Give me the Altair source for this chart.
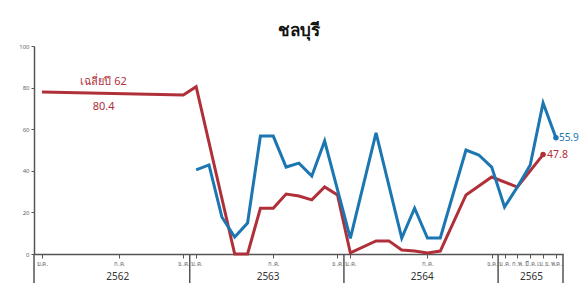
import json
import altair as alt
import pandas as pd

# ---- data (month index: 0 = ม.ค. 2562) ----
blue_month = [12, 13, 14, 15, 16, 17, 18, 19, 20, 21, 22, 24, 26, 28, 29, 30, 31, 33, 34, 35, 36, 37, 38, 39, 40]
blue_value = [40.4, 42.8, 17.8, 8.2, 14.9, 56.7, 56.7, 41.8, 43.7, 37.5, 54.3, 7.5, 58.2, 7.7, 22.0, 7.7, 7.7,
              50.0, 47.6, 41.8, 22.6, 32.2, 42.8, 72.6, 55.9]
red_month = [0, 11, 12, 15, 16, 17, 18, 19, 20, 21, 22, 23, 24, 26, 27, 28, 29, 30, 31, 33, 35, 37, 39]
red_value = [77.9, 76.4, 80.4, 0, 0, 22.0, 22.0, 28.8, 27.9, 26.0, 32.2, 28.4, 0.5, 6.3, 6.3, 1.9, 1.4, 0.5, 1.4,
             28.4, 37.0, 32.2, 47.8]

tick_month = [0, 6, 11, 12, 18, 23, 24, 30, 35, 36, 37, 38, 39, 40]
tick_label = ["ม.ค.", "ก.ค.", "ธ.ค.", "ม.ค.", "ก.ค.", "ธ.ค.", "ม.ค.", "ก.ค.", "ธ.ค.",
              "ม.ค.", "ก.พ.", "มี.ค.", "เม.ย.", "พ.ค."]
year_label = ["2562", "2563", "2564", "2565"]
year_mid = [5.9, 17.6, 29.6, 38.1]
year_edge = [-0.62, 11.5, 23.5, 35.5, 40.55]

avg_label = ["เฉลี่ยปี 62", "80.4"]

BLUE = "#1b76b2"
RED = "#b0303a"
AX = "#555555"
FONT = "Noto Sans"

blue_df = pd.DataFrame({"m": blue_month, "v": blue_value})
red_df = pd.DataFrame({"m": red_month, "v": red_value})
year_df = pd.DataFrame({"m": year_mid, "label": year_label})
edge_df = pd.DataFrame({"m": year_edge})
avg_df = pd.DataFrame({"m": [4.8, 4.8], "v": [82.7, 70.7], "label": avg_label})

xs = alt.Scale(domain=[-0.62, 40.55], nice=False, zero=False)
ys = alt.Scale(domain=[0, 100], nice=False)

label_expr = "{}[indexof({}, datum.value)]".format(
    json.dumps(tick_label, ensure_ascii=False), json.dumps(tick_month))

x_axis = alt.Axis(values=tick_month, labelExpr=label_expr, grid=False, title=None,
                  domainColor=AX, domainWidth=1.5, tickColor=AX, tickSize=4, tickWidth=1,
                  labelFontSize=6, labelColor="#666666", labelPadding=2, labelFont=FONT,
                  labelFlush=False, labelOverlap=False)
y_axis = alt.Axis(values=list(range(0, 101, 10)), grid=False, title=None,
                  domainColor=AX, domainWidth=1.5, tickColor=AX, tickSize=3, tickWidth=1,
                  labelFontSize=6, labelColor="#666666", labelPadding=2, labelFont=FONT)

base_x = alt.X("m:Q", scale=xs, axis=x_axis)
base_y = alt.Y("v:Q", scale=ys, axis=y_axis)

red_line = alt.Chart(red_df).mark_line(color=RED, strokeWidth=3).encode(x=base_x, y=base_y)
blue_line = alt.Chart(blue_df).mark_line(color=BLUE, strokeWidth=3).encode(x="m:Q", y="v:Q")

red_end = alt.Chart(red_df.tail(1)).mark_circle(color=RED, size=30, opacity=1).encode(x="m:Q", y="v:Q")
blue_end = alt.Chart(blue_df.tail(1)).mark_circle(color=BLUE, size=30, opacity=1).encode(x="m:Q", y="v:Q")
red_end_txt = alt.Chart(red_df.tail(1)).mark_text(color=RED, align="left", dx=4, fontSize=10.5, font=FONT).encode(
    x="m:Q", y="v:Q", text=alt.Text("v:Q", format=".1f"))
blue_end_txt = alt.Chart(blue_df.tail(1)).mark_text(color=BLUE, align="left", dx=3, fontSize=10, font=FONT).encode(
    x="m:Q", y="v:Q", text=alt.Text("v:Q", format=".1f"))

avg_txt = alt.Chart(avg_df).mark_text(color=RED, fontSize=11, font=FONT).encode(
    x="m:Q", y="v:Q", text="label:N")

edges = alt.Chart(edge_df).mark_rule(color=AX, strokeWidth=1.5).encode(
    x="m:Q", y=alt.value(208), y2=alt.value(237))
years = alt.Chart(year_df).mark_text(color="#333333", fontSize=10, font=FONT).encode(
    x="m:Q", y=alt.value(231), text="label:N")

chart = alt.layer(red_line, blue_line, red_end, blue_end, red_end_txt, blue_end_txt,
                  avg_txt, edges, years).properties(
    width=529, height=208,
    title=alt.TitleParams("ชลบุรี", fontSize=17, fontWeight="bold", color="#111111",
                          font=FONT, anchor="middle", offset=3),
    autosize=alt.AutoSizeParams(type="none"),
    padding={"left": 26, "top": 38, "right": 17, "bottom": 31},
    background="white",
).configure_view(stroke=None)

chart.save("out.html", embed_options={"renderer": "svg", "actions": False})
